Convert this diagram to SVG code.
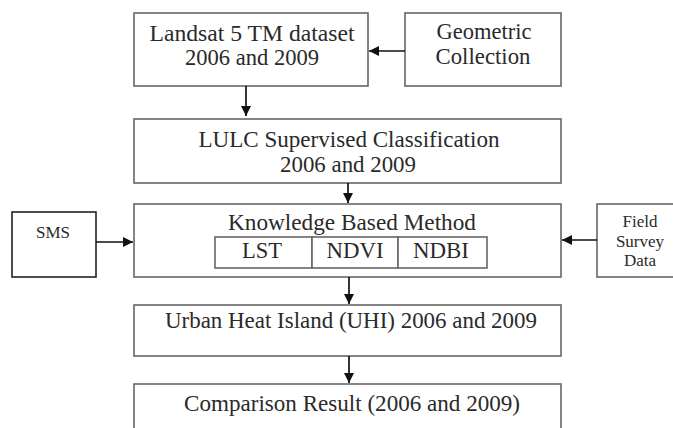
<svg xmlns="http://www.w3.org/2000/svg" width="673" height="428" viewBox="0 0 673 428">
<style>
.box{fill:#fff;stroke:#666;stroke-width:1.6}
.dark{stroke:#222}
.t{font-family:"Liberation Serif","Times New Roman",serif;font-size:23px;fill:#2a2a2a;text-anchor:middle}
.s{font-size:17px}
.c{stroke:#111;stroke-width:1.7;fill:none;marker-end:url(#ah)}
</style>
<defs>
<marker id="ah" viewBox="0 0 10 10" refX="10" refY="5" markerWidth="10" markerHeight="10" markerUnits="userSpaceOnUse" orient="auto">
<path d="M0,0 L10,5 L0,10 z" fill="#111"/>
</marker>
</defs>
<rect width="673" height="428" fill="#fff"/>
<g id="landsat">
<rect class="box" x="134" y="13" width="234" height="73"/>
<text class="t" x="252" y="41" textLength="205" lengthAdjust="spacingAndGlyphs">Landsat 5 TM dataset</text>
<text class="t" x="252" y="65" textLength="134" lengthAdjust="spacingAndGlyphs">2006 and 2009</text>
</g>
<g id="geometric">
<rect class="box" x="405" y="13" width="156" height="73"/>
<text class="t" x="484" y="39" textLength="95" lengthAdjust="spacingAndGlyphs">Geometric</text>
<text class="t" x="483" y="64" textLength="95" lengthAdjust="spacingAndGlyphs">Collection</text>
</g>
<g id="lulc">
<rect class="box" x="134" y="119" width="427" height="64"/>
<text class="t" x="349" y="147" textLength="301" lengthAdjust="spacingAndGlyphs">LULC Supervised Classification</text>
<text class="t" x="348" y="172" textLength="136" lengthAdjust="spacingAndGlyphs">2006 and 2009</text>
</g>
<g id="kbm">
<rect class="box" x="134" y="204" width="427" height="73"/>
<text class="t" x="352" y="230" textLength="248" lengthAdjust="spacingAndGlyphs">Knowledge Based Method</text>
<rect class="box" x="215" y="237" width="97" height="31"/>
<rect class="box" x="312" y="237" width="86" height="31"/>
<rect class="box" x="398" y="237" width="89" height="31"/>
<text class="t" x="262" y="258" textLength="40" lengthAdjust="spacingAndGlyphs">LST</text>
<text class="t" x="355" y="258" textLength="57" lengthAdjust="spacingAndGlyphs">NDVI</text>
<text class="t" x="441" y="258" textLength="56" lengthAdjust="spacingAndGlyphs">NDBI</text>
</g>
<g id="sms">
<rect class="box dark" x="12" y="212" width="84" height="65"/>
<text class="t s" x="53" y="238">SMS</text>
</g>
<g id="field">
<rect class="box" x="597" y="204" width="90" height="73"/>
<text class="t s" x="640" y="227">Field</text>
<text class="t s" x="640" y="247">Survey</text>
<text class="t s" x="640" y="266">Data</text>
</g>
<g id="uhi">
<rect class="box" x="134" y="305" width="427" height="51"/>
<text class="t" x="351" y="328" textLength="372" lengthAdjust="spacingAndGlyphs">Urban Heat Island (UHI) 2006 and 2009</text>
</g>
<g id="comparison">
<rect class="box" x="134" y="384" width="427" height="60"/>
<text class="t" x="352" y="411" textLength="336" lengthAdjust="spacingAndGlyphs">Comparison Result (2006 and 2009)</text>
</g>
<g id="connectors">
<line class="c" x1="246" y1="86" x2="246" y2="116"/>
<line class="c" x1="405" y1="51" x2="369" y2="51"/>
<line class="c" x1="348" y1="183" x2="348" y2="203"/>
<line class="c" x1="96" y1="242" x2="133" y2="242"/>
<line class="c" x1="597" y1="240" x2="562" y2="240"/>
<line class="c" x1="349" y1="277" x2="349" y2="304"/>
<line class="c" x1="349" y1="356" x2="349" y2="383"/>
</g>
</svg>
